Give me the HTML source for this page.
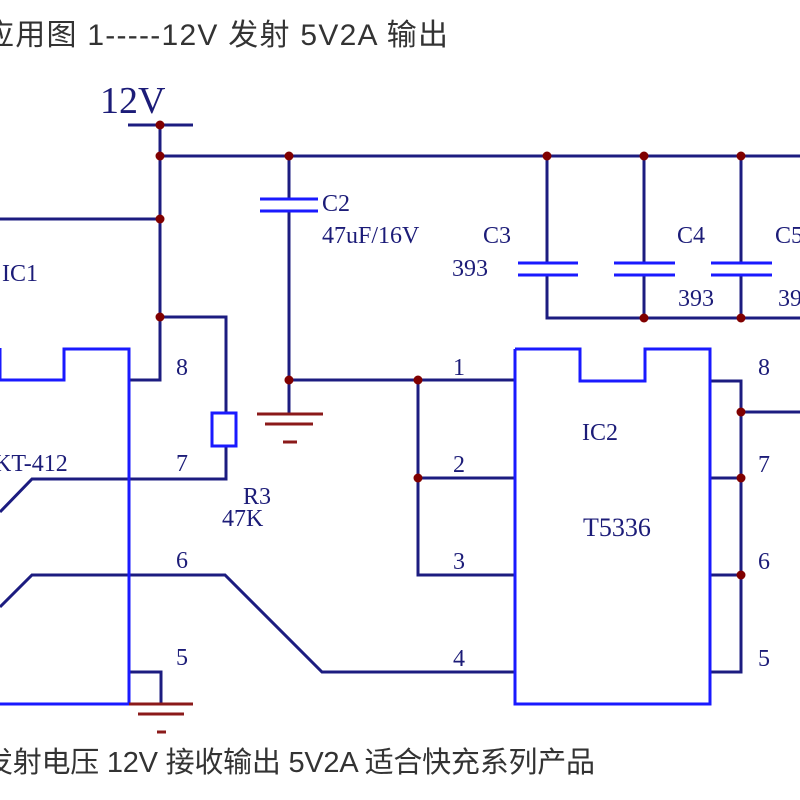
<!DOCTYPE html>
<html><head><meta charset="utf-8"><style>
html,body{margin:0;padding:0;background:#fff;width:800px;height:800px;overflow:hidden}
svg{display:block}
.t{font-family:"Liberation Serif","Noto Serif CJK SC",serif;fill:#1c1c78}
.c{font-family:"Liberation Sans","Noto Sans CJK SC",sans-serif;fill:#333}
</style></head><body>
<svg width="800" height="800" viewBox="0 0 800 800" xmlns="http://www.w3.org/2000/svg">
<text class="c" x="-16" y="45" font-size="30" textLength="464" lengthAdjust="spacing">应用图 1-----12V 发射 5V2A 输出</text>
<text class="c" x="-16" y="772" font-size="29" textLength="611" lengthAdjust="spacing">发射电压 12V  接收输出 5V2A 适合快充系列产品</text>

<g fill="none" stroke="#1c1c80" stroke-width="3">
<line x1="128" y1="125" x2="193" y2="125"/>
<polyline points="160,125 160,380 130,380"/>
<line x1="160" y1="156" x2="800" y2="156"/>
<line x1="0" y1="219" x2="160" y2="219"/>
<polyline points="160,317 226,317 226,413"/>
<polyline points="226,446 226,479 32,479 0,512"/>
<polyline points="0,607 32,575 225,575 322,672 515,672"/>
<polyline points="129,672 161,672 161,704"/>
<line x1="289" y1="156" x2="289" y2="199"/>
<line x1="289" y1="211" x2="289" y2="414"/>
<line x1="289" y1="380" x2="515" y2="380"/>
<line x1="547" y1="156" x2="547" y2="263"/>
<line x1="644" y1="156" x2="644" y2="263"/>
<line x1="741" y1="156" x2="741" y2="263"/>
<polyline points="547,275 547,318 800,318"/>
<line x1="644" y1="275" x2="644" y2="318"/>
<line x1="741" y1="275" x2="741" y2="318"/>
<polyline points="418,380 418,575 515,575"/>
<line x1="418" y1="478" x2="515" y2="478"/>
<polyline points="710,381 741,381 741,672 710,672"/>
<line x1="710" y1="478" x2="741" y2="478"/>
<line x1="710" y1="575" x2="741" y2="575"/>
<line x1="741" y1="412" x2="800" y2="412"/>
</g>
<g fill="none" stroke="#1a1aff" stroke-width="3">
<line x1="260" y1="199" x2="318" y2="199"/><line x1="260" y1="211" x2="318" y2="211"/>
<line x1="518" y1="263" x2="578" y2="263"/><line x1="518" y1="275" x2="578" y2="275"/>
<line x1="614" y1="263" x2="675" y2="263"/><line x1="614" y1="275" x2="675" y2="275"/>
<line x1="711" y1="263" x2="772" y2="263"/><line x1="711" y1="275" x2="772" y2="275"/>
<rect x="212" y="413" width="24" height="33"/>
<polyline points="0,348 0,380 64,380 64,349 129,349 129,704 0,704"/>
<polyline points="515,349 580,349 580,381 645,381 645,349 710,349 710,704 515,704 515,349"/>
</g>
<g stroke="#8b1a1a" stroke-width="3">
<line x1="257" y1="414" x2="323" y2="414"/><line x1="265" y1="424" x2="313" y2="424"/><line x1="283" y1="442" x2="297" y2="442"/>
<line x1="129" y1="704" x2="193" y2="704"/><line x1="138" y1="714" x2="184" y2="714"/><line x1="157" y1="732" x2="166" y2="732"/>
</g>
<g fill="#800000">
<circle cx="160" cy="125" r="4.5"/><circle cx="160" cy="156" r="4.5"/><circle cx="160" cy="219" r="4.5"/><circle cx="160" cy="317" r="4.5"/>
<circle cx="289" cy="156" r="4.5"/><circle cx="547" cy="156" r="4.5"/><circle cx="644" cy="156" r="4.5"/><circle cx="741" cy="156" r="4.5"/>
<circle cx="644" cy="318" r="4.5"/><circle cx="741" cy="318" r="4.5"/>
<circle cx="289" cy="380" r="4.5"/><circle cx="418" cy="380" r="4.5"/><circle cx="418" cy="478" r="4.5"/>
<circle cx="741" cy="412" r="4.5"/><circle cx="741" cy="478" r="4.5"/><circle cx="741" cy="575" r="4.5"/>
</g>
<g class="t" font-size="24">
<text x="100" y="113" font-size="38">12V</text>
<text x="2" y="281">IC1</text>
<text x="-6" y="471">KT-412</text>
<text x="176" y="375">8</text><text x="176" y="471">7</text><text x="176" y="568">6</text><text x="176" y="665">5</text>
<text x="243" y="504">R3</text><text x="222" y="526">47K</text>
<text x="322" y="211">C2</text><text x="322" y="243">47uF/16V</text>
<text x="483" y="243">C3</text><text x="452" y="276">393</text>
<text x="677" y="243">C4</text><text x="678" y="306">393</text>
<text x="775" y="243">C5</text><text x="778" y="306">393</text>
<text x="453" y="375">1</text><text x="453" y="472">2</text><text x="453" y="569">3</text><text x="453" y="666">4</text>
<text x="758" y="375">8</text><text x="758" y="472">7</text><text x="758" y="569">6</text><text x="758" y="666">5</text>
<text x="582" y="440">IC2</text><text x="583" y="536" font-size="26">T5336</text>
</g>
</svg>
</body></html>
